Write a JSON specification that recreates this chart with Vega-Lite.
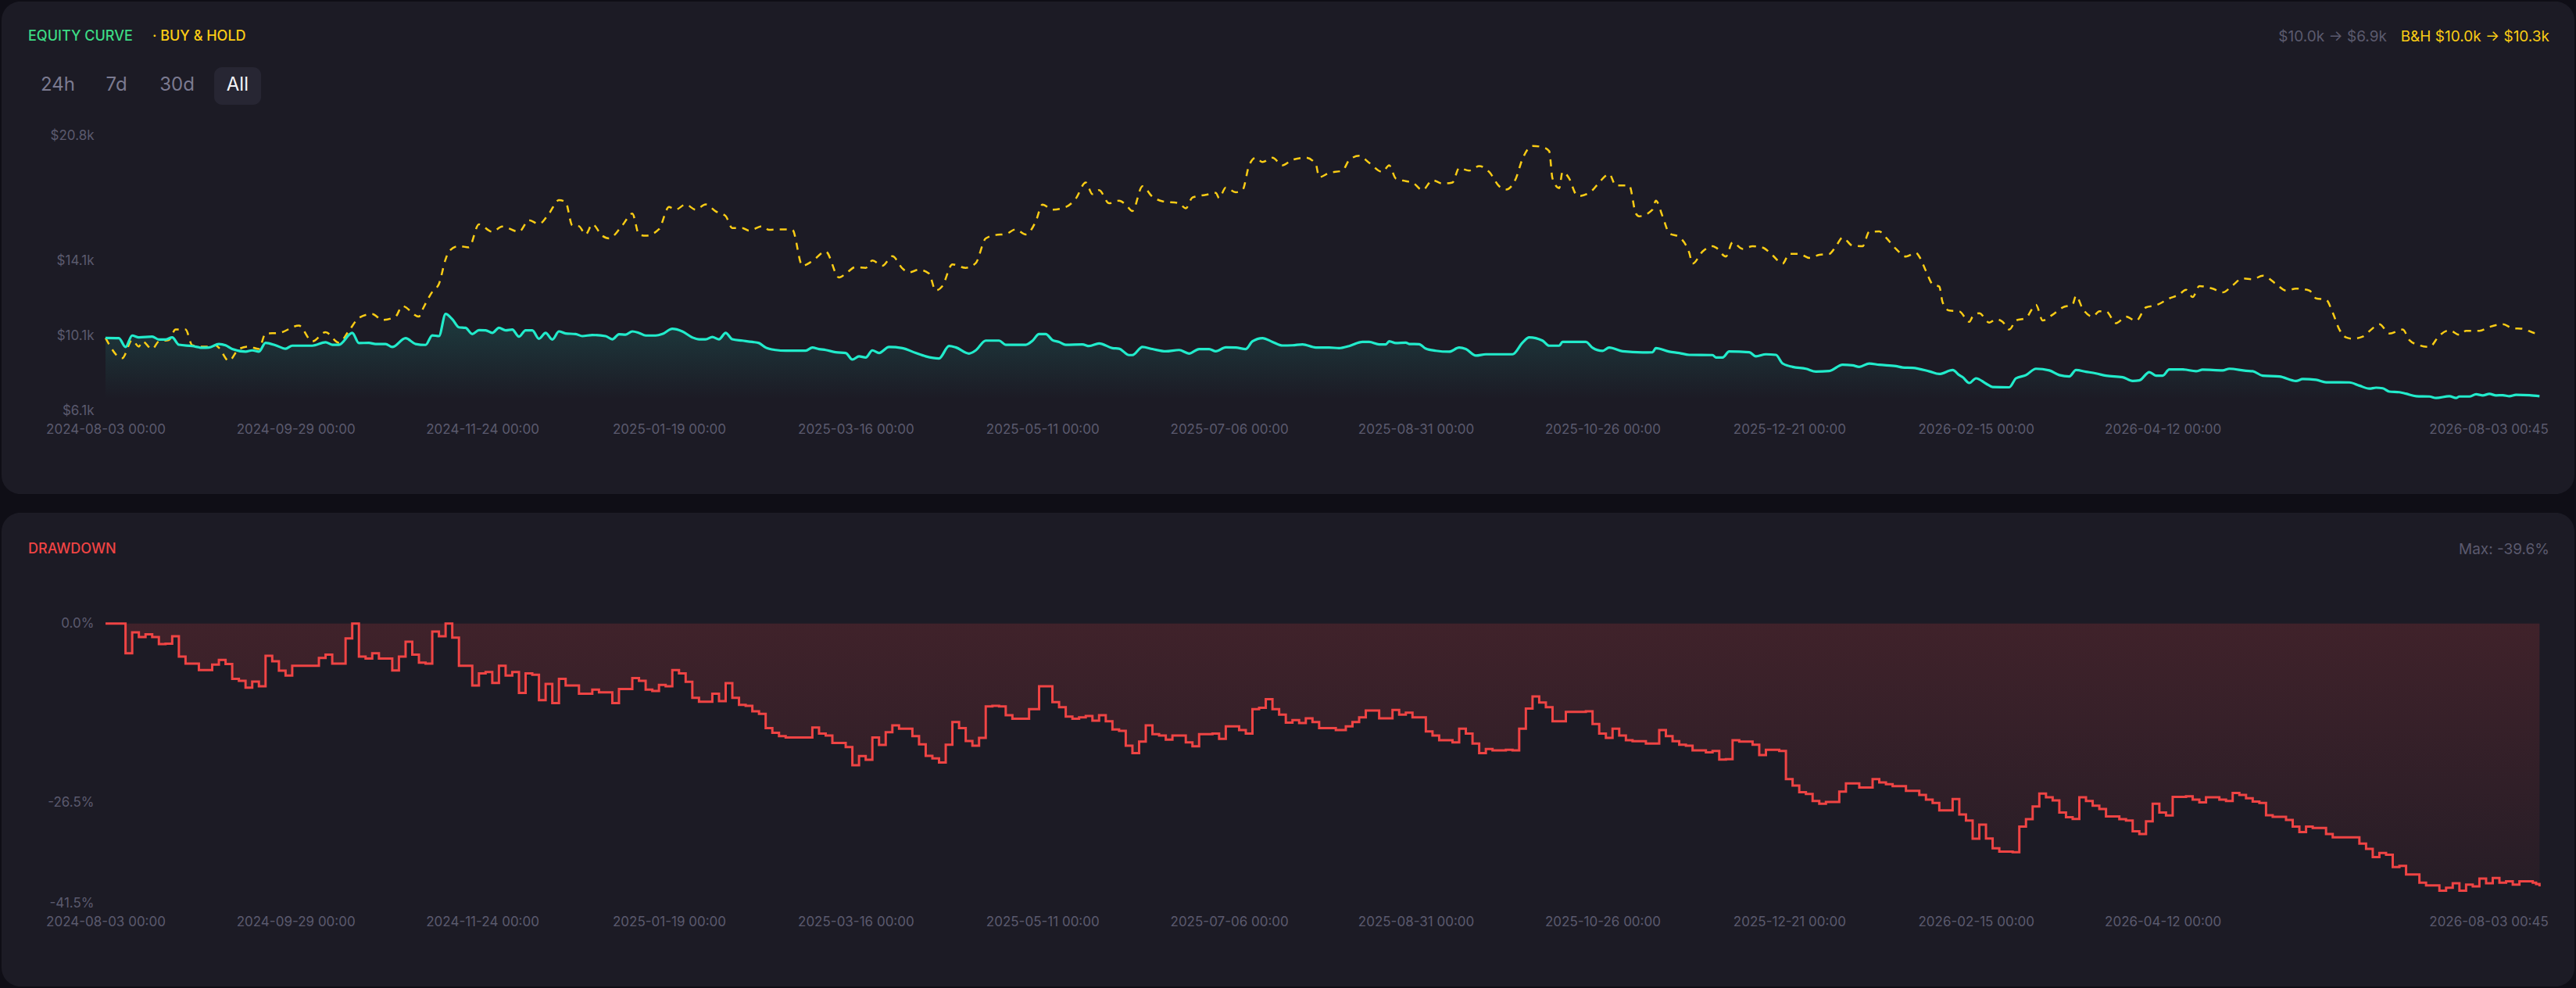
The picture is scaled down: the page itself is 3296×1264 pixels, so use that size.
{
  "$schema": "https://vega.github.io/schema/vega-lite/v6.json",
  "background": "#0f0e16",
  "padding": {"left": 2, "right": 2, "top": 2, "bottom": 2},
  "autosize": {"type": "pad"},
  "spacing": 24,
  "config": {
    "font": "Inter",
    "view": {"fill": "#1c1b25", "stroke": null, "cornerRadius": 24},
    "axis": {"domain": false, "ticks": false, "grid": false, "labelColor": "#5b5a6e", "labelFont": "Inter", "labelFontSize": 17}
  },
  "datasets": {
    "equity": [
      {"t":"2024-08-03","v":10.00},{"t":"2024-08-07","v":9.99},{"t":"2024-08-09","v":9.52},{"t":"2024-08-11","v":10.13},{"t":"2024-08-13","v":10.03},{"t":"2024-08-17","v":10.07},{"t":"2024-08-19","v":9.92},{"t":"2024-08-21","v":9.92},{"t":"2024-08-23","v":10.03},{"t":"2024-08-25","v":9.64},{"t":"2024-08-29","v":9.57},{"t":"2024-09-01","v":9.48},{"t":"2024-09-03","v":9.49},{"t":"2024-09-06","v":9.68},{"t":"2024-09-08","v":9.61},{"t":"2024-09-10","v":9.41},{"t":"2024-09-14","v":9.27},{"t":"2024-09-16","v":9.34},{"t":"2024-09-18","v":9.27},{"t":"2024-09-20","v":9.74},{"t":"2024-09-23","v":9.61},{"t":"2024-09-26","v":9.43},{"t":"2024-09-28","v":9.59},{"t":"2024-10-04","v":9.59},{"t":"2024-10-08","v":9.77},{"t":"2024-10-10","v":9.64},{"t":"2024-10-12","v":9.64},{"t":"2024-10-16","v":10.27},{"t":"2024-10-18","v":9.73},{"t":"2024-10-21","v":9.74},{"t":"2024-10-23","v":9.68},{"t":"2024-10-26","v":9.68},{"t":"2024-10-28","v":9.52},{"t":"2024-11-01","v":9.99},{"t":"2024-11-04","v":9.68},{"t":"2024-11-07","v":9.63},{"t":"2024-11-09","v":10.14},{"t":"2024-11-11","v":10.10},{"t":"2024-11-13","v":11.28},{"t":"2024-11-15","v":11.00},{"t":"2024-11-17","v":10.57},{"t":"2024-11-19","v":10.54},{"t":"2024-11-21","v":10.21},{"t":"2024-11-23","v":10.42},{"t":"2024-11-25","v":10.41},{"t":"2024-11-27","v":10.27},{"t":"2024-11-29","v":10.54},{"t":"2024-12-01","v":10.41},{"t":"2024-12-03","v":10.45},{"t":"2024-12-05","v":10.07},{"t":"2024-12-07","v":10.41},{"t":"2024-12-09","v":10.41},{"t":"2024-12-11","v":9.96},{"t":"2024-12-13","v":10.27},{"t":"2024-12-15","v":9.92},{"t":"2024-12-17","v":10.35},{"t":"2024-12-19","v":10.24},{"t":"2024-12-22","v":10.21},{"t":"2024-12-24","v":10.10},{"t":"2024-12-27","v":10.16},{"t":"2024-12-31","v":10.10},
      {"t":"2025-01-02","v":9.93},{"t":"2025-01-04","v":10.20},{"t":"2025-01-06","v":10.18},{"t":"2025-01-08","v":10.35},{"t":"2025-01-10","v":10.27},{"t":"2025-01-12","v":10.13},{"t":"2025-01-15","v":10.13},{"t":"2025-01-17","v":10.21},{"t":"2025-01-20","v":10.49},{"t":"2025-01-23","v":10.35},{"t":"2025-01-26","v":10.03},{"t":"2025-01-28","v":9.93},{"t":"2025-01-30","v":9.93},{"t":"2025-02-01","v":10.05},{"t":"2025-02-03","v":9.93},{"t":"2025-02-05","v":10.27},{"t":"2025-02-07","v":9.93},{"t":"2025-02-10","v":9.86},{"t":"2025-02-13","v":9.79},{"t":"2025-02-15","v":9.73},{"t":"2025-02-17","v":9.49},{"t":"2025-02-20","v":9.36},{"t":"2025-02-23","v":9.32},{"t":"2025-03-01","v":9.32},{"t":"2025-03-03","v":9.49},{"t":"2025-03-05","v":9.41},{"t":"2025-03-07","v":9.36},{"t":"2025-03-10","v":9.24},{"t":"2025-03-13","v":9.20},{"t":"2025-03-15","v":8.85},{"t":"2025-03-17","v":9.02},{"t":"2025-03-19","v":8.96},{"t":"2025-03-21","v":9.34},{"t":"2025-03-23","v":9.20},{"t":"2025-03-26","v":9.52},{"t":"2025-03-30","v":9.46},{"t":"2025-04-03","v":9.20},{"t":"2025-04-06","v":9.02},{"t":"2025-04-10","v":8.91},{"t":"2025-04-13","v":9.57},{"t":"2025-04-15","v":9.50},{"t":"2025-04-19","v":9.17},{"t":"2025-04-21","v":9.34},{"t":"2025-04-24","v":9.86},{"t":"2025-04-28","v":9.86},{"t":"2025-04-30","v":9.64},{"t":"2025-05-06","v":9.64},{"t":"2025-05-08","v":9.85},{"t":"2025-05-10","v":10.21},{"t":"2025-05-12","v":10.21},{"t":"2025-05-14","v":9.89},{"t":"2025-05-16","v":9.79},{"t":"2025-05-18","v":9.64},{"t":"2025-05-23","v":9.66},{"t":"2025-05-25","v":9.57},{"t":"2025-05-28","v":9.71},{"t":"2025-06-01","v":9.46},{"t":"2025-06-03","v":9.43},{"t":"2025-06-06","v":9.09},{"t":"2025-06-07","v":9.09},{"t":"2025-06-10","v":9.52},{"t":"2025-06-13","v":9.41},{"t":"2025-06-17","v":9.29},{"t":"2025-06-21","v":9.36},{"t":"2025-06-24","v":9.17},{"t":"2025-06-27","v":9.41},{"t":"2025-06-30","v":9.41},{"t":"2025-07-02","v":9.29},{"t":"2025-07-05","v":9.50},{"t":"2025-07-08","v":9.49},{"t":"2025-07-11","v":9.41},{"t":"2025-07-13","v":9.82},{"t":"2025-07-16","v":9.99},{"t":"2025-07-19","v":9.79},{"t":"2025-07-22","v":9.60},{"t":"2025-07-25","v":9.61},{"t":"2025-07-28","v":9.66},{"t":"2025-08-01","v":9.49},{"t":"2025-08-05","v":9.49},{"t":"2025-08-08","v":9.46},{"t":"2025-08-11","v":9.57},{"t":"2025-08-15","v":9.79},{"t":"2025-08-17","v":9.79},{"t":"2025-08-20","v":9.66},{"t":"2025-08-22","v":9.66},{"t":"2025-08-23","v":9.82},{"t":"2025-08-25","v":9.73},{"t":"2025-08-28","v":9.75},{"t":"2025-08-29","v":9.68},{"t":"2025-09-01","v":9.67},{"t":"2025-09-03","v":9.43},{"t":"2025-09-06","v":9.32},{"t":"2025-09-10","v":9.27},{"t":"2025-09-13","v":9.49},{"t":"2025-09-15","v":9.41},{"t":"2025-09-18","v":9.06},{"t":"2025-09-21","v":9.13},{"t":"2025-09-29","v":9.13},{"t":"2025-10-02","v":9.75},{"t":"2025-10-04","v":10.03},{"t":"2025-10-08","v":9.86},{"t":"2025-10-10","v":9.59},{"t":"2025-10-13","v":9.59},{"t":"2025-10-14","v":9.79},{"t":"2025-10-21","v":9.79},{"t":"2025-10-23","v":9.48},{"t":"2025-10-26","v":9.31},{"t":"2025-10-28","v":9.49},{"t":"2025-11-01","v":9.29},{"t":"2025-11-07","v":9.23},{"t":"2025-11-10","v":9.24},{"t":"2025-11-11","v":9.46},{"t":"2025-11-15","v":9.27},{"t":"2025-11-18","v":9.20},{"t":"2025-11-21","v":9.10},{"t":"2025-11-28","v":9.09},{"t":"2025-11-29","v":8.96},{"t":"2025-12-01","v":8.96},{"t":"2025-12-03","v":9.28},{"t":"2025-12-09","v":9.24},{"t":"2025-12-11","v":9.02},{"t":"2025-12-14","v":9.13},{"t":"2025-12-17","v":9.10},{"t":"2025-12-19","v":8.64},{"t":"2025-12-22","v":8.46},{"t":"2025-12-26","v":8.36},{"t":"2025-12-29","v":8.21},
      {"t":"2026-01-02","v":8.24},{"t":"2026-01-06","v":8.57},{"t":"2026-01-09","v":8.54},{"t":"2026-01-11","v":8.46},{"t":"2026-01-14","v":8.64},{"t":"2026-01-17","v":8.57},{"t":"2026-01-22","v":8.50},{"t":"2026-01-24","v":8.43},{"t":"2026-01-27","v":8.41},{"t":"2026-02-01","v":8.22},{"t":"2026-02-04","v":8.08},{"t":"2026-02-08","v":8.29},{"t":"2026-02-10","v":8.02},{"t":"2026-02-11","v":7.91},{"t":"2026-02-13","v":7.60},{"t":"2026-02-15","v":7.85},{"t":"2026-02-18","v":7.57},{"t":"2026-02-20","v":7.39},{"t":"2026-02-25","v":7.37},{"t":"2026-02-27","v":7.85},{"t":"2026-03-02","v":8.02},{"t":"2026-03-05","v":8.36},{"t":"2026-03-09","v":8.27},{"t":"2026-03-12","v":8.02},{"t":"2026-03-15","v":7.95},{"t":"2026-03-17","v":8.29},{"t":"2026-03-20","v":8.20},{"t":"2026-03-23","v":8.11},{"t":"2026-03-26","v":7.99},{"t":"2026-03-31","v":7.91},{"t":"2026-04-03","v":7.71},{"t":"2026-04-05","v":7.74},{"t":"2026-04-08","v":8.18},{"t":"2026-04-10","v":7.99},{"t":"2026-04-12","v":7.99},{"t":"2026-04-14","v":8.32},{"t":"2026-04-18","v":8.32},{"t":"2026-04-22","v":8.23},{"t":"2026-04-24","v":8.31},{"t":"2026-04-30","v":8.27},{"t":"2026-05-02","v":8.36},{"t":"2026-05-07","v":8.25},{"t":"2026-05-09","v":8.23},{"t":"2026-05-12","v":7.99},{"t":"2026-05-17","v":7.95},{"t":"2026-05-22","v":7.71},{"t":"2026-05-24","v":7.81},{"t":"2026-05-28","v":7.77},{"t":"2026-05-31","v":7.64},{"t":"2026-06-07","v":7.63},{"t":"2026-06-10","v":7.46},{"t":"2026-06-13","v":7.30},{"t":"2026-06-15","v":7.35},{"t":"2026-06-17","v":7.32},{"t":"2026-06-19","v":7.14},{"t":"2026-06-22","v":7.11},{"t":"2026-06-24","v":7.03},{"t":"2026-06-27","v":6.90},{"t":"2026-07-01","v":6.88},{"t":"2026-07-03","v":6.80},{"t":"2026-07-07","v":6.90},{"t":"2026-07-09","v":6.80},{"t":"2026-07-10","v":6.88},{"t":"2026-07-13","v":6.88},{"t":"2026-07-15","v":7.00},{"t":"2026-07-17","v":6.94},{"t":"2026-07-19","v":7.02},{"t":"2026-07-21","v":6.94},{"t":"2026-07-23","v":6.95},{"t":"2026-07-25","v":6.90},{"t":"2026-07-27","v":6.97},{"t":"2026-07-31","v":6.95},{"t":"2026-08-03T00:45:00Z","v":6.90}
    ],
    "bh": [
      {"t":"2024-08-03","v":10.00},{"t":"2024-08-08","v":8.92},{"t":"2024-08-11","v":9.89},{"t":"2024-08-13","v":9.54},{"t":"2024-08-14","v":9.82},{"t":"2024-08-17","v":9.41},{"t":"2024-08-19","v":9.82},{"t":"2024-08-22","v":9.89},{"t":"2024-08-24","v":10.45},{"t":"2024-08-27","v":10.45},{"t":"2024-08-29","v":9.61},{"t":"2024-09-01","v":9.54},{"t":"2024-09-03","v":9.54},{"t":"2024-09-05","v":9.61},{"t":"2024-09-06","v":9.48},{"t":"2024-09-09","v":8.78},{"t":"2024-09-12","v":9.41},{"t":"2024-09-15","v":9.54},{"t":"2024-09-18","v":9.41},{"t":"2024-09-20","v":10.24},{"t":"2024-09-24","v":10.27},{"t":"2024-09-30","v":10.66},{"t":"2024-10-04","v":9.82},{"t":"2024-10-08","v":10.31},{"t":"2024-10-12","v":9.75},{"t":"2024-10-15","v":10.38},{"t":"2024-10-18","v":11.07},{"t":"2024-10-22","v":11.28},{"t":"2024-10-25","v":10.96},{"t":"2024-10-29","v":11.14},{"t":"2024-10-31","v":11.70},{"t":"2024-11-05","v":11.14},{"t":"2024-11-06","v":11.49},{"t":"2024-11-09","v":12.46},{"t":"2024-11-11","v":12.88},{"t":"2024-11-13","v":14.20},{"t":"2024-11-14","v":14.62},{"t":"2024-11-17","v":14.90},{"t":"2024-11-20","v":14.83},{"t":"2024-11-23","v":16.06},{"t":"2024-11-27","v":15.66},{"t":"2024-11-30","v":15.94},{"t":"2024-12-05","v":15.66},{"t":"2024-12-08","v":16.28},{"t":"2024-12-11","v":16.08},{"t":"2024-12-14","v":16.63},{"t":"2024-12-17","v":17.35},{"t":"2024-12-19","v":17.25},{"t":"2024-12-21","v":16.00},{"t":"2024-12-23","v":15.96},{"t":"2024-12-25","v":15.52},{"t":"2024-12-27","v":16.06},{"t":"2024-12-30","v":15.45},
      {"t":"2025-01-01","v":15.31},{"t":"2025-01-05","v":16.00},{"t":"2025-01-08","v":16.63},{"t":"2025-01-10","v":15.52},{"t":"2025-01-12","v":15.45},{"t":"2025-01-16","v":15.80},{"t":"2025-01-19","v":16.98},{"t":"2025-01-21","v":16.84},{"t":"2025-01-24","v":17.12},{"t":"2025-01-27","v":16.84},{"t":"2025-01-30","v":17.12},{"t":"2025-02-02","v":16.75},{"t":"2025-02-05","v":16.50},{"t":"2025-02-07","v":15.86},{"t":"2025-02-10","v":15.86},{"t":"2025-02-12","v":15.72},{"t":"2025-02-16","v":15.96},{"t":"2025-02-18","v":15.77},{"t":"2025-02-21","v":15.79},{"t":"2025-02-25","v":15.77},{"t":"2025-02-28","v":13.85},{"t":"2025-03-03","v":14.10},{"t":"2025-03-07","v":14.61},{"t":"2025-03-11","v":13.22},{"t":"2025-03-13","v":13.43},{"t":"2025-03-16","v":13.78},{"t":"2025-03-19","v":13.74},{"t":"2025-03-21","v":14.13},{"t":"2025-03-24","v":13.85},{"t":"2025-03-27","v":14.36},{"t":"2025-03-30","v":13.71},{"t":"2025-04-01","v":13.50},{"t":"2025-04-04","v":13.64},{"t":"2025-04-07","v":13.43},{"t":"2025-04-09","v":12.53},{"t":"2025-04-11","v":12.77},{"t":"2025-04-14","v":13.92},{"t":"2025-04-18","v":13.74},{"t":"2025-04-21","v":13.99},{"t":"2025-04-24","v":15.31},{"t":"2025-04-27","v":15.49},{"t":"2025-04-30","v":15.54},{"t":"2025-05-03","v":15.79},{"t":"2025-05-06","v":15.52},{"t":"2025-05-09","v":16.21},{"t":"2025-05-11","v":17.11},{"t":"2025-05-14","v":16.84},{"t":"2025-05-18","v":16.98},{"t":"2025-05-21","v":17.43},{"t":"2025-05-24","v":18.29},{"t":"2025-05-26","v":17.67},{"t":"2025-05-28","v":17.88},{"t":"2025-05-31","v":17.18},{"t":"2025-06-03","v":17.32},{"t":"2025-06-05","v":17.11},{"t":"2025-06-07","v":16.77},{"t":"2025-06-10","v":18.09},{"t":"2025-06-13","v":17.53},{"t":"2025-06-16","v":17.29},{"t":"2025-06-21","v":17.18},{"t":"2025-06-23","v":16.91},{"t":"2025-06-25","v":17.49},{"t":"2025-06-29","v":17.63},{"t":"2025-07-02","v":17.74},{"t":"2025-07-03","v":17.46},{"t":"2025-07-05","v":18.02},{"t":"2025-07-08","v":17.77},{"t":"2025-07-10","v":17.88},{"t":"2025-07-12","v":19.20},{"t":"2025-07-14","v":19.61},{"t":"2025-07-16","v":19.38},{"t":"2025-07-19","v":19.61},{"t":"2025-07-22","v":19.20},{"t":"2025-07-25","v":19.50},{"t":"2025-07-29","v":19.61},{"t":"2025-08-01","v":19.27},{"t":"2025-08-02","v":18.57},{"t":"2025-08-05","v":18.80},{"t":"2025-08-09","v":18.92},{"t":"2025-08-11","v":19.48},{"t":"2025-08-14","v":19.71},{"t":"2025-08-17","v":19.34},{"t":"2025-08-21","v":18.85},{"t":"2025-08-23","v":19.20},{"t":"2025-08-25","v":18.50},{"t":"2025-08-28","v":18.36},{"t":"2025-08-30","v":18.29},{"t":"2025-09-02","v":17.88},{"t":"2025-09-05","v":18.41},{"t":"2025-09-08","v":18.23},{"t":"2025-09-11","v":18.29},{"t":"2025-09-13","v":19.06},{"t":"2025-09-16","v":18.92},{"t":"2025-09-19","v":19.16},{"t":"2025-09-22","v":18.85},{"t":"2025-09-25","v":18.09},{"t":"2025-09-27","v":17.91},{"t":"2025-09-30","v":18.50},{"t":"2025-10-02","v":19.55},{"t":"2025-10-05","v":20.24},{"t":"2025-10-08","v":20.17},{"t":"2025-10-10","v":19.96},{"t":"2025-10-11","v":18.50},{"t":"2025-10-13","v":17.99},{"t":"2025-10-14","v":18.85},{"t":"2025-10-16","v":18.50},{"t":"2025-10-18","v":17.67},{"t":"2025-10-19","v":17.57},{"t":"2025-10-23","v":17.88},{"t":"2025-10-25","v":18.29},{"t":"2025-10-28","v":18.74},{"t":"2025-10-30","v":18.13},{"t":"2025-11-03","v":18.13},{"t":"2025-11-05","v":16.63},{"t":"2025-11-06","v":16.49},{"t":"2025-11-10","v":16.84},{"t":"2025-11-11","v":17.32},{"t":"2025-11-13","v":16.49},{"t":"2025-11-15","v":15.59},{"t":"2025-11-18","v":15.38},{"t":"2025-11-21","v":14.54},{"t":"2025-11-22","v":13.96},{"t":"2025-11-25","v":14.61},{"t":"2025-11-28","v":14.89},{"t":"2025-11-29","v":14.82},{"t":"2025-12-02","v":14.34},{"t":"2025-12-04","v":15.10},{"t":"2025-12-07","v":14.75},{"t":"2025-12-10","v":14.89},{"t":"2025-12-13","v":14.82},{"t":"2025-12-16","v":14.41},{"t":"2025-12-19","v":13.96},{"t":"2025-12-21","v":14.48},{"t":"2025-12-24","v":14.48},{"t":"2025-12-27","v":14.27},{"t":"2025-12-30","v":14.43},
      {"t":"2026-01-02","v":14.48},{"t":"2026-01-04","v":14.89},{"t":"2026-01-06","v":15.35},{"t":"2026-01-09","v":14.92},{"t":"2026-01-12","v":14.89},{"t":"2026-01-14","v":15.66},{"t":"2026-01-17","v":15.68},{"t":"2026-01-19","v":15.35},{"t":"2026-01-22","v":14.75},{"t":"2026-01-25","v":14.34},{"t":"2026-01-28","v":14.54},{"t":"2026-01-29","v":14.34},{"t":"2026-01-31","v":13.57},{"t":"2026-02-02","v":12.86},{"t":"2026-02-04","v":12.74},{"t":"2026-02-05","v":11.90},{"t":"2026-02-07","v":11.46},{"t":"2026-02-10","v":11.42},{"t":"2026-02-13","v":10.86},{"t":"2026-02-14","v":11.14},{"t":"2026-02-16","v":11.32},{"t":"2026-02-19","v":10.82},{"t":"2026-02-21","v":11.00},{"t":"2026-02-23","v":10.86},{"t":"2026-02-25","v":10.45},{"t":"2026-02-27","v":10.93},{"t":"2026-03-02","v":11.07},{"t":"2026-03-05","v":11.77},{"t":"2026-03-07","v":10.93},{"t":"2026-03-10","v":11.24},{"t":"2026-03-13","v":11.63},{"t":"2026-03-16","v":11.79},{"t":"2026-03-17","v":12.25},{"t":"2026-03-19","v":11.56},{"t":"2026-03-22","v":11.14},{"t":"2026-03-24","v":11.42},{"t":"2026-03-26","v":11.42},{"t":"2026-03-29","v":10.79},{"t":"2026-04-01","v":11.14},{"t":"2026-04-04","v":10.91},{"t":"2026-04-07","v":11.63},{"t":"2026-04-10","v":11.74},{"t":"2026-04-14","v":12.11},{"t":"2026-04-17","v":12.32},{"t":"2026-04-19","v":12.57},{"t":"2026-04-21","v":12.18},{"t":"2026-04-23","v":12.77},{"t":"2026-04-27","v":12.63},{"t":"2026-04-30","v":12.43},{"t":"2026-05-03","v":12.81},{"t":"2026-05-06","v":13.18},{"t":"2026-05-09","v":13.13},{"t":"2026-05-12","v":13.32},{"t":"2026-05-16","v":12.88},{"t":"2026-05-19","v":12.53},{"t":"2026-05-22","v":12.63},{"t":"2026-05-26","v":12.53},{"t":"2026-05-28","v":12.11},{"t":"2026-05-31","v":12.04},{"t":"2026-06-02","v":11.35},{"t":"2026-06-04","v":10.45},{"t":"2026-06-06","v":10.03},{"t":"2026-06-08","v":9.96},{"t":"2026-06-11","v":10.07},{"t":"2026-06-14","v":10.52},{"t":"2026-06-16","v":10.73},{"t":"2026-06-19","v":10.24},{"t":"2026-06-23","v":10.45},{"t":"2026-06-25","v":9.89},{"t":"2026-06-28","v":9.61},{"t":"2026-07-01","v":9.52},{"t":"2026-07-04","v":10.13},{"t":"2026-07-07","v":10.41},{"t":"2026-07-10","v":10.17},{"t":"2026-07-12","v":10.38},{"t":"2026-07-16","v":10.38},{"t":"2026-07-19","v":10.59},{"t":"2026-07-23","v":10.73},{"t":"2026-07-26","v":10.52},{"t":"2026-07-29","v":10.49},{"t":"2026-08-02","v":10.25},{"t":"2026-08-03T00:45:00Z","v":10.30}
    ],
    "dd": [
      {"t":"2024-08-03","v":0},{"t":"2024-08-09","v":-4.4},{"t":"2024-08-11","v":-1.3},{"t":"2024-08-13","v":-2.0},{"t":"2024-08-15","v":-1.6},{"t":"2024-08-17","v":-2.0},{"t":"2024-08-19","v":-3.05},{"t":"2024-08-21","v":-3.0},{"t":"2024-08-23","v":-1.9},{"t":"2024-08-25","v":-4.9},{"t":"2024-08-27","v":-5.95},{"t":"2024-08-31","v":-6.9},{"t":"2024-09-04","v":-6.1},{"t":"2024-09-06","v":-5.4},{"t":"2024-09-08","v":-6.0},{"t":"2024-09-10","v":-8.2},{"t":"2024-09-12","v":-8.5},{"t":"2024-09-14","v":-9.5},{"t":"2024-09-16","v":-8.6},{"t":"2024-09-18","v":-9.3},{"t":"2024-09-20","v":-4.8},{"t":"2024-09-22","v":-5.6},{"t":"2024-09-24","v":-7.0},{"t":"2024-09-26","v":-7.7},{"t":"2024-09-28","v":-6.25},{"t":"2024-10-06","v":-5.1},{"t":"2024-10-08","v":-4.6},{"t":"2024-10-10","v":-5.95},{"t":"2024-10-14","v":-2.2},{"t":"2024-10-16","v":0},{"t":"2024-10-18","v":-4.9},{"t":"2024-10-20","v":-5.2},{"t":"2024-10-22","v":-4.4},{"t":"2024-10-24","v":-5.2},{"t":"2024-10-28","v":-6.95},{"t":"2024-10-30","v":-4.9},{"t":"2024-11-01","v":-2.7},{"t":"2024-11-03","v":-4.6},{"t":"2024-11-05","v":-5.8},{"t":"2024-11-07","v":-5.95},{"t":"2024-11-09","v":-1.2},{"t":"2024-11-11","v":-1.9},{"t":"2024-11-13","v":0},{"t":"2024-11-15","v":-2.1},{"t":"2024-11-17","v":-6.25},{"t":"2024-11-21","v":-9.2},{"t":"2024-11-23","v":-7.4},{"t":"2024-11-25","v":-7.2},{"t":"2024-11-27","v":-8.8},{"t":"2024-11-29","v":-6.25},{"t":"2024-12-01","v":-7.7},{"t":"2024-12-03","v":-7.2},{"t":"2024-12-05","v":-10.3},{"t":"2024-12-07","v":-7.4},{"t":"2024-12-09","v":-7.6},{"t":"2024-12-11","v":-11.35},{"t":"2024-12-13","v":-8.95},{"t":"2024-12-15","v":-11.8},{"t":"2024-12-17","v":-8.2},{"t":"2024-12-19","v":-9.2},{"t":"2024-12-23","v":-10.4},{"t":"2024-12-27","v":-9.8},{"t":"2024-12-29","v":-10.2},
      {"t":"2025-01-02","v":-11.8},{"t":"2025-01-04","v":-9.7},{"t":"2025-01-08","v":-8.1},{"t":"2025-01-10","v":-8.5},{"t":"2025-01-12","v":-9.8},{"t":"2025-01-14","v":-10.0},{"t":"2025-01-16","v":-9.1},{"t":"2025-01-18","v":-9.3},{"t":"2025-01-20","v":-6.9},{"t":"2025-01-22","v":-7.4},{"t":"2025-01-24","v":-8.65},{"t":"2025-01-26","v":-11.0},{"t":"2025-01-28","v":-11.6},{"t":"2025-02-01","v":-10.4},{"t":"2025-02-03","v":-11.5},{"t":"2025-02-05","v":-8.85},{"t":"2025-02-07","v":-11.0},{"t":"2025-02-09","v":-12.05},{"t":"2025-02-11","v":-12.2},{"t":"2025-02-13","v":-13.0},{"t":"2025-02-15","v":-13.4},{"t":"2025-02-17","v":-15.5},{"t":"2025-02-19","v":-16.2},{"t":"2025-02-21","v":-16.7},{"t":"2025-02-23","v":-16.9},{"t":"2025-03-03","v":-15.4},{"t":"2025-03-05","v":-16.3},{"t":"2025-03-07","v":-16.6},{"t":"2025-03-09","v":-17.7},{"t":"2025-03-13","v":-18.3},{"t":"2025-03-15","v":-21.0},{"t":"2025-03-17","v":-19.65},{"t":"2025-03-19","v":-20.2},{"t":"2025-03-21","v":-16.9},{"t":"2025-03-23","v":-18.0},{"t":"2025-03-25","v":-16.1},{"t":"2025-03-27","v":-15.1},{"t":"2025-03-29","v":-15.6},{"t":"2025-04-02","v":-16.7},{"t":"2025-04-04","v":-17.9},{"t":"2025-04-06","v":-19.6},{"t":"2025-04-08","v":-20.0},{"t":"2025-04-10","v":-20.6},{"t":"2025-04-12","v":-17.95},{"t":"2025-04-14","v":-14.6},{"t":"2025-04-16","v":-15.5},{"t":"2025-04-18","v":-17.4},{"t":"2025-04-20","v":-18.1},{"t":"2025-04-22","v":-16.95},{"t":"2025-04-24","v":-12.3},{"t":"2025-04-26","v":-12.2},{"t":"2025-04-28","v":-12.3},{"t":"2025-04-30","v":-13.6},{"t":"2025-05-02","v":-14.1},{"t":"2025-05-07","v":-12.7},{"t":"2025-05-10","v":-9.3},{"t":"2025-05-14","v":-11.65},{"t":"2025-05-16","v":-12.4},{"t":"2025-05-18","v":-13.8},{"t":"2025-05-20","v":-14.1},{"t":"2025-05-22","v":-13.9},{"t":"2025-05-24","v":-13.7},{"t":"2025-05-26","v":-14.4},{"t":"2025-05-28","v":-13.6},{"t":"2025-05-30","v":-14.5},{"t":"2025-06-01","v":-15.7},{"t":"2025-06-03","v":-15.9},{"t":"2025-06-05","v":-18.1},{"t":"2025-06-07","v":-19.2},{"t":"2025-06-09","v":-17.5},{"t":"2025-06-11","v":-15.1},{"t":"2025-06-13","v":-16.4},{"t":"2025-06-15","v":-16.6},{"t":"2025-06-17","v":-17.2},{"t":"2025-06-19","v":-16.6},{"t":"2025-06-23","v":-17.6},{"t":"2025-06-25","v":-18.2},{"t":"2025-06-27","v":-16.4},{"t":"2025-07-01","v":-16.3},{"t":"2025-07-03","v":-17.1},{"t":"2025-07-05","v":-15.25},{"t":"2025-07-09","v":-15.8},{"t":"2025-07-11","v":-16.3},{"t":"2025-07-13","v":-12.7},{"t":"2025-07-15","v":-12.5},{"t":"2025-07-17","v":-11.2},{"t":"2025-07-19","v":-12.7},{"t":"2025-07-21","v":-13.5},{"t":"2025-07-23","v":-14.7},{"t":"2025-07-25","v":-14.3},{"t":"2025-07-27","v":-14.75},{"t":"2025-07-29","v":-14.05},{"t":"2025-07-31","v":-14.6},{"t":"2025-08-02","v":-15.5},{"t":"2025-08-07","v":-15.8},{"t":"2025-08-10","v":-15.25},{"t":"2025-08-12","v":-14.6},{"t":"2025-08-14","v":-13.9},{"t":"2025-08-16","v":-12.9},{"t":"2025-08-20","v":-14.05},{"t":"2025-08-24","v":-12.8},{"t":"2025-08-26","v":-13.5},{"t":"2025-08-28","v":-13.2},{"t":"2025-08-30","v":-13.9},{"t":"2025-09-03","v":-16.0},{"t":"2025-09-05","v":-16.6},{"t":"2025-09-07","v":-17.3},{"t":"2025-09-11","v":-17.6},{"t":"2025-09-13","v":-15.6},{"t":"2025-09-15","v":-16.3},{"t":"2025-09-17","v":-17.8},{"t":"2025-09-19","v":-19.2},{"t":"2025-09-21","v":-18.6},{"t":"2025-09-23","v":-18.8},{"t":"2025-09-27","v":-18.7},{"t":"2025-09-29","v":-18.8},{"t":"2025-10-01","v":-15.6},{"t":"2025-10-03","v":-12.6},{"t":"2025-10-05","v":-10.8},{"t":"2025-10-07","v":-11.7},{"t":"2025-10-09","v":-12.4},{"t":"2025-10-11","v":-14.5},{"t":"2025-10-15","v":-13.1},{"t":"2025-10-21","v":-13.0},{"t":"2025-10-23","v":-14.9},{"t":"2025-10-25","v":-16.3},{"t":"2025-10-27","v":-16.95},{"t":"2025-10-29","v":-15.6},{"t":"2025-10-31","v":-16.6},{"t":"2025-11-02","v":-17.3},{"t":"2025-11-04","v":-17.45},{"t":"2025-11-08","v":-17.8},{"t":"2025-11-12","v":-15.8},{"t":"2025-11-14","v":-16.7},{"t":"2025-11-16","v":-17.45},{"t":"2025-11-18","v":-17.95},{"t":"2025-11-20","v":-18.1},{"t":"2025-11-22","v":-18.8},{"t":"2025-11-26","v":-19.1},{"t":"2025-11-28","v":-18.9},{"t":"2025-11-30","v":-20.15},{"t":"2025-12-02","v":-20.1},{"t":"2025-12-04","v":-17.3},{"t":"2025-12-06","v":-17.5},{"t":"2025-12-10","v":-17.95},{"t":"2025-12-12","v":-19.5},{"t":"2025-12-14","v":-18.7},{"t":"2025-12-18","v":-18.9},{"t":"2025-12-20","v":-23.05},{"t":"2025-12-22","v":-24.0},{"t":"2025-12-24","v":-25.0},{"t":"2025-12-26","v":-25.25},{"t":"2025-12-28","v":-26.3},{"t":"2025-12-30","v":-26.7},
      {"t":"2026-01-01","v":-26.45},{"t":"2026-01-05","v":-24.9},{"t":"2026-01-07","v":-23.7},{"t":"2026-01-11","v":-24.3},{"t":"2026-01-15","v":-23.05},{"t":"2026-01-17","v":-23.55},{"t":"2026-01-19","v":-23.8},{"t":"2026-01-21","v":-24.1},{"t":"2026-01-25","v":-24.8},{"t":"2026-01-29","v":-25.4},{"t":"2026-01-31","v":-26.1},{"t":"2026-02-02","v":-26.6},{"t":"2026-02-04","v":-27.7},{"t":"2026-02-08","v":-26.0},{"t":"2026-02-10","v":-28.3},{"t":"2026-02-12","v":-29.2},{"t":"2026-02-14","v":-31.9},{"t":"2026-02-16","v":-29.8},{"t":"2026-02-18","v":-31.85},{"t":"2026-02-20","v":-33.3},{"t":"2026-02-22","v":-33.8},{"t":"2026-02-26","v":-33.9},{"t":"2026-02-28","v":-30.1},{"t":"2026-03-02","v":-29.0},{"t":"2026-03-04","v":-27.1},{"t":"2026-03-06","v":-25.2},{"t":"2026-03-08","v":-25.75},{"t":"2026-03-10","v":-26.2},{"t":"2026-03-12","v":-28.0},{"t":"2026-03-14","v":-28.7},{"t":"2026-03-16","v":-28.95},{"t":"2026-03-18","v":-25.75},{"t":"2026-03-20","v":-26.3},{"t":"2026-03-22","v":-27.0},{"t":"2026-03-24","v":-27.5},{"t":"2026-03-26","v":-28.6},{"t":"2026-03-30","v":-29.0},{"t":"2026-04-01","v":-29.2},{"t":"2026-04-03","v":-30.8},{"t":"2026-04-05","v":-31.2},{"t":"2026-04-07","v":-29.3},{"t":"2026-04-09","v":-26.7},{"t":"2026-04-11","v":-28.0},{"t":"2026-04-13","v":-28.45},{"t":"2026-04-15","v":-25.7},{"t":"2026-04-19","v":-25.6},{"t":"2026-04-21","v":-26.1},{"t":"2026-04-23","v":-26.5},{"t":"2026-04-25","v":-25.75},{"t":"2026-04-29","v":-26.1},{"t":"2026-05-01","v":-26.3},{"t":"2026-05-03","v":-25.1},{"t":"2026-05-05","v":-25.4},{"t":"2026-05-07","v":-25.9},{"t":"2026-05-09","v":-26.4},{"t":"2026-05-11","v":-26.6},{"t":"2026-05-13","v":-28.4},{"t":"2026-05-15","v":-28.65},{"t":"2026-05-19","v":-29.1},{"t":"2026-05-21","v":-30.1},{"t":"2026-05-23","v":-30.9},{"t":"2026-05-25","v":-30.1},{"t":"2026-05-27","v":-30.3},{"t":"2026-05-31","v":-31.2},{"t":"2026-06-02","v":-31.7},{"t":"2026-06-10","v":-32.6},{"t":"2026-06-12","v":-33.4},{"t":"2026-06-14","v":-34.6},{"t":"2026-06-16","v":-34.0},{"t":"2026-06-18","v":-34.25},{"t":"2026-06-20","v":-36.1},{"t":"2026-06-22","v":-35.9},{"t":"2026-06-24","v":-37.2},{"t":"2026-06-28","v":-38.4},{"t":"2026-06-30","v":-38.8},{"t":"2026-07-04","v":-39.6},{"t":"2026-07-06","v":-39.15},{"t":"2026-07-08","v":-38.5},{"t":"2026-07-10","v":-39.6},{"t":"2026-07-12","v":-38.7},{"t":"2026-07-14","v":-38.95},{"t":"2026-07-16","v":-37.8},{"t":"2026-07-18","v":-38.5},{"t":"2026-07-20","v":-37.7},{"t":"2026-07-22","v":-38.4},{"t":"2026-07-24","v":-38.2},{"t":"2026-07-26","v":-38.7},{"t":"2026-07-28","v":-38.2},{"t":"2026-08-01","v":-38.4},{"t":"2026-08-02","v":-38.6},{"t":"2026-08-03T00:45:00Z","v":-38.95}
    ]
  },
  "vconcat": [
    {
      "width": 3292,
      "height": 630,
      "layer": [
        {
          "data": {"name": "equity"},
          "mark": {"type": "area", "interpolate": "monotone",
            "color": {"x1": 0, "y1": 0, "x2": 0, "y2": 1, "gradient": "linear",
              "stops": [{"offset": 0, "color": "rgba(34,232,200,0.16)"}, {"offset": 1, "color": "rgba(34,232,200,0)"}]}},
          "encoding": {
            "x": {"field": "t", "type": "temporal", "title": null,
              "scale": {"type": "utc", "nice": false,
                "domain": [{"year": 2024, "month": 7, "date": 2, "hours": 19, "minutes": 41, "utc": true}, {"year": 2026, "month": 8, "date": 13, "hours": 12, "utc": true}]},
              "axis": {"format": "%Y-%m-%d %H:%M", "offset": -106, "labelPadding": 15, "labelFlush": false, "labelOverlap": false,
                "labelAlign": {"expr": "datum.value > 1785000000000 ? 'right' : 'center'"},
                "labelOffset": {"expr": "datum.value > 1785000000000 ? 11 : 0"},
                "values": [
                  {"year": 2024, "month": 8, "date": 3, "utc": true},
                  {"year": 2024, "month": 9, "date": 29, "utc": true},
                  {"year": 2024, "month": 11, "date": 24, "utc": true},
                  {"year": 2025, "month": 1, "date": 19, "utc": true},
                  {"year": 2025, "month": 3, "date": 16, "utc": true},
                  {"year": 2025, "month": 5, "date": 11, "utc": true},
                  {"year": 2025, "month": 7, "date": 6, "utc": true},
                  {"year": 2025, "month": 8, "date": 31, "utc": true},
                  {"year": 2025, "month": 10, "date": 26, "utc": true},
                  {"year": 2025, "month": 12, "date": 21, "utc": true},
                  {"year": 2026, "month": 2, "date": 15, "utc": true},
                  {"year": 2026, "month": 4, "date": 12, "utc": true},
                  {"year": 2026, "month": 8, "date": 3, "hours": 0, "minutes": 45, "utc": true}
                ]}},
            "y": {"field": "v", "type": "quantitative", "title": null,
              "scale": {"domain": [1.683, 27.933], "nice": false, "zero": false},
              "axis": {"values": [6.1, 10.1, 14.1, 20.8], "labelExpr": "'$' + format(datum.value, '.1f') + 'k'", "offset": -133, "labelPadding": 15}},
            "y2": {"datum": 6.76}
          }
        },
        {
          "data": {"name": "bh"},
          "mark": {"type": "line", "interpolate": "monotone", "color": "#facc15", "strokeWidth": 2.5, "strokeDash": [9, 8]},
          "encoding": {
            "x": {"field": "t", "type": "temporal", "title": null},
            "y": {"field": "v", "type": "quantitative", "title": null}
          }
        },
        {
          "data": {"name": "equity"},
          "mark": {"type": "line", "interpolate": "monotone", "color": "#22ebcb", "strokeWidth": 3.2},
          "encoding": {
            "x": {"field": "t", "type": "temporal", "title": null},
            "y": {"field": "v", "type": "quantitative", "title": null}
          }
        },
        {
          "data": {"values": [{}]},
          "mark": {"type": "text", "align": "left", "baseline": "middle", "fontSize": 18, "fontWeight": 500, "color": "#3ddc84", "text": "EQUITY CURVE"},
          "encoding": {
            "x": {"datum": {"year": 2024, "month": 7, "date": 10, "hours": 19, "utc": true}, "type": "temporal", "title": null},
            "y": {"datum": 26.06, "type": "quantitative", "title": null}
          }
        },
        {
          "data": {"values": [{}]},
          "mark": {"type": "text", "align": "left", "baseline": "middle", "fontSize": 18, "fontWeight": 500, "color": "#facc15", "text": "· BUY & HOLD"},
          "encoding": {
            "x": {"datum": {"year": 2024, "month": 8, "date": 17, "hours": 1, "utc": true}, "type": "temporal", "title": null},
            "y": {"datum": 26.06, "type": "quantitative", "title": null}
          }
        },
        {
          "data": {"values": [{}]},
          "mark": {"type": "rect", "color": "#272633", "cornerRadius": 10},
          "encoding": {
            "x": {"datum": {"year": 2024, "month": 9, "date": 4, "hours": 14, "utc": true}, "type": "temporal", "title": null},
            "x2": {"datum": {"year": 2024, "month": 9, "date": 18, "hours": 16, "utc": true}},
            "y": {"datum": 24.43, "type": "quantitative", "title": null},
            "y2": {"datum": 22.43}
          }
        },
        {
          "data": {"values": [{}]},
          "mark": {"type": "text", "align": "center", "baseline": "middle", "fontSize": 24, "color": "#7b7a90", "text": "24h"},
          "encoding": {
            "x": {"datum": {"year": 2024, "month": 7, "date": 19, "hours": 17, "utc": true}, "type": "temporal", "title": null},
            "y": {"datum": 23.475, "type": "quantitative", "title": null}
          }
        },
        {
          "data": {"values": [{}]},
          "mark": {"type": "text", "align": "center", "baseline": "middle", "fontSize": 24, "color": "#7b7a90", "text": "7d"},
          "encoding": {
            "x": {"datum": {"year": 2024, "month": 8, "date": 6, "hours": 7, "utc": true}, "type": "temporal", "title": null},
            "y": {"datum": 23.475, "type": "quantitative", "title": null}
          }
        },
        {
          "data": {"values": [{}]},
          "mark": {"type": "text", "align": "center", "baseline": "middle", "fontSize": 24, "color": "#7b7a90", "text": "30d"},
          "encoding": {
            "x": {"datum": {"year": 2024, "month": 8, "date": 24, "hours": 11, "utc": true}, "type": "temporal", "title": null},
            "y": {"datum": 23.475, "type": "quantitative", "title": null}
          }
        },
        {
          "data": {"values": [{}]},
          "mark": {"type": "text", "align": "center", "baseline": "middle", "fontSize": 24, "color": "#f4f4f8", "text": "All"},
          "encoding": {
            "x": {"datum": {"year": 2024, "month": 9, "date": 11, "hours": 14, "utc": true}, "type": "temporal", "title": null},
            "y": {"datum": 23.475, "type": "quantitative", "title": null}
          }
        },
        {
          "data": {"values": [{}]},
          "mark": {"type": "text", "align": "right", "baseline": "middle", "fontSize": 19, "color": "#5b5a6e", "text": "$10.0k → $6.9k"},
          "encoding": {
            "x": {"datum": {"year": 2026, "month": 6, "date": 18, "hours": 5, "utc": true}, "type": "temporal", "title": null},
            "y": {"datum": 26.06, "type": "quantitative", "title": null}
          }
        },
        {
          "data": {"values": [{}]},
          "mark": {"type": "text", "align": "right", "baseline": "middle", "fontSize": 19, "color": "#facc15", "text": "B&H $10.0k → $10.3k"},
          "encoding": {
            "x": {"datum": {"year": 2026, "month": 8, "date": 6, "utc": true}, "type": "temporal", "title": null},
            "y": {"datum": 26.06, "type": "quantitative", "title": null}
          }
        }
      ]
    },
    {
      "width": 3292,
      "height": 606,
      "layer": [
        {
          "data": {"name": "dd"},
          "mark": {"type": "area", "interpolate": "step-after",
            "color": {"x1": 0, "y1": 0, "x2": 0, "y2": 1, "gradient": "linear",
              "stops": [{"offset": 0, "color": "rgba(239,68,68,0.17)"}, {"offset": 1, "color": "rgba(239,68,68,0.05)"}]}},
          "encoding": {
            "x": {"field": "t", "type": "temporal", "title": null,
              "scale": {"type": "utc", "nice": false,
                "domain": [{"year": 2024, "month": 7, "date": 2, "hours": 19, "minutes": 41, "utc": true}, {"year": 2026, "month": 8, "date": 13, "hours": 12, "utc": true}]},
              "axis": {"format": "%Y-%m-%d %H:%M", "offset": -106, "labelPadding": 15, "labelFlush": false, "labelOverlap": false,
                "labelAlign": {"expr": "datum.value > 1785000000000 ? 'right' : 'center'"},
                "labelOffset": {"expr": "datum.value > 1785000000000 ? 11 : 0"},
                "values": [
                  {"year": 2024, "month": 8, "date": 3, "utc": true},
                  {"year": 2024, "month": 9, "date": 29, "utc": true},
                  {"year": 2024, "month": 11, "date": 24, "utc": true},
                  {"year": 2025, "month": 1, "date": 19, "utc": true},
                  {"year": 2025, "month": 3, "date": 16, "utc": true},
                  {"year": 2025, "month": 5, "date": 11, "utc": true},
                  {"year": 2025, "month": 7, "date": 6, "utc": true},
                  {"year": 2025, "month": 8, "date": 31, "utc": true},
                  {"year": 2025, "month": 10, "date": 26, "utc": true},
                  {"year": 2025, "month": 12, "date": 21, "utc": true},
                  {"year": 2026, "month": 2, "date": 15, "utc": true},
                  {"year": 2026, "month": 4, "date": 12, "utc": true},
                  {"year": 2026, "month": 8, "date": 3, "hours": 0, "minutes": 45, "utc": true}
                ]}},
            "y": {"field": "v", "type": "quantitative", "title": null,
              "scale": {"domain": [-53.78, 16.41], "nice": false, "zero": false},
              "axis": {"values": [-41.5, -26.5, 0], "labelExpr": "datum.value == 0 ? '0.0%' : datum.value + '%'", "offset": -133, "labelPadding": 15}},
            "y2": {"datum": 0}
          }
        },
        {
          "data": {"name": "dd"},
          "mark": {"type": "line", "interpolate": "step-after", "color": "#ef4444", "strokeWidth": 3},
          "encoding": {
            "x": {"field": "t", "type": "temporal", "title": null},
            "y": {"field": "v", "type": "quantitative", "title": null}
          }
        },
        {
          "data": {"values": [{}]},
          "mark": {"type": "text", "align": "left", "baseline": "middle", "fontSize": 18, "fontWeight": 500, "color": "#ef4444", "text": "DRAWDOWN"},
          "encoding": {
            "x": {"datum": {"year": 2024, "month": 7, "date": 10, "hours": 19, "utc": true}, "type": "temporal", "title": null},
            "y": {"datum": 10.91, "type": "quantitative", "title": null}
          }
        },
        {
          "data": {"values": [{}]},
          "mark": {"type": "text", "align": "right", "baseline": "middle", "fontSize": 19, "color": "#5b5a6e", "text": "Max: -39.6%"},
          "encoding": {
            "x": {"datum": {"year": 2026, "month": 8, "date": 6, "utc": true}, "type": "temporal", "title": null},
            "y": {"datum": 10.91, "type": "quantitative", "title": null}
          }
        }
      ]
    }
  ]
}
